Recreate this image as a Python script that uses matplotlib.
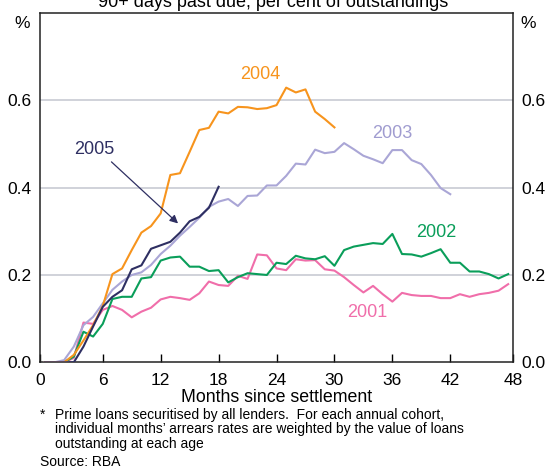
import numpy as np
import matplotlib
matplotlib.use("Agg")
import matplotlib.pyplot as plt

plt.rcParams["font.family"] = ["Liberation Sans", "DejaVu Sans"]

# arrears rate (per cent) by months since settlement, one list per cohort
y2001 = [0, 0, 0, 0.010, 0.091, 0.088, 0.120, 0.129, 0.120, 0.103, 0.116, 0.125,
         0.144, 0.150, 0.147, 0.143, 0.158, 0.185, 0.177, 0.175, 0.198, 0.191,
         0.247, 0.245, 0.215, 0.211, 0.236, 0.233, 0.234, 0.213, 0.210, 0.195,
         0.177, 0.160, 0.175, 0.156, 0.139, 0.159, 0.154, 0.152, 0.152, 0.147,
         0.147, 0.156, 0.150, 0.156, 0.159, 0.164, 0.179]
y2002 = [0, 0, 0, 0.013, 0.070, 0.059, 0.088, 0.145, 0.150, 0.150, 0.192, 0.195,
         0.233, 0.240, 0.242, 0.219, 0.219, 0.209, 0.211, 0.183, 0.195, 0.204,
         0.202, 0.200, 0.228, 0.225, 0.244, 0.238, 0.236, 0.243, 0.221, 0.257,
         0.265, 0.269, 0.273, 0.271, 0.294, 0.248, 0.247, 0.242, 0.250, 0.259,
         0.228, 0.228, 0.208, 0.208, 0.202, 0.192, 0.202]
y2003 = [0, 0, 0.005, 0.036, 0.085, 0.104, 0.135, 0.166, 0.185, 0.200, 0.206,
         0.223, 0.248, 0.267, 0.290, 0.310, 0.331, 0.356, 0.368, 0.374, 0.358,
         0.381, 0.382, 0.405, 0.405, 0.427, 0.455, 0.453, 0.487, 0.479, 0.482,
         0.502, 0.488, 0.473, 0.465, 0.456, 0.486, 0.486, 0.463, 0.454, 0.429,
         0.399, 0.385]
y2004 = [0, 0, 0, 0.017, 0.050, 0.085, 0.129, 0.202, 0.215, 0.257, 0.297, 0.312,
         0.341, 0.429, 0.433, 0.482, 0.532, 0.537, 0.574, 0.570, 0.585, 0.584,
         0.580, 0.582, 0.589, 0.629, 0.618, 0.625, 0.574, 0.557, 0.538]
y2005 = [0, 0, 0, 0, 0.036, 0.082, 0.127, 0.150, 0.165, 0.213, 0.222, 0.260,
         0.268, 0.276, 0.297, 0.323, 0.333, 0.354, 0.402]

xtick_labels = ["0", "6", "12", "18", "24", "30", "36", "42", "48"]
yticks = [0.0, 0.2, 0.4, 0.6]

c2001 = "#f06eaa"
c2002 = "#0a9e5a"
c2003 = "#aaa6d6"
c2004 = "#f7941d"
c2005 = "#2e2f62"

fig = plt.figure(figsize=(5.46, 4.72), dpi=100)
ax = fig.add_axes([0.0733, 0.2324, 0.8663, 0.7401])

for ys, col in [(y2001, c2001), (y2002, c2002), (y2003, c2003),
                (y2004, c2004), (y2005, c2005)]:
    ax.plot(np.arange(len(ys)), ys, color=col, lw=1.5, zorder=3)

ax.set_xlim(-0.5, 48.5)
ax.set_ylim(0, 0.8)
for g in yticks[1:]:
    ax.axhline(g, color="#c3c6cf", lw=1.1, zorder=1)

ax.set_yticks(yticks)
ax.set_yticklabels([f"{v:.1f}" for v in yticks])
ax.tick_params(axis="y", length=0, pad=6, labelsize=12.5, labelright=True)
xt = [-0.5, 6, 12, 18, 24, 30, 36, 42, 48.5]
ax.set_xticks(xt)
ax.set_xticklabels(xtick_labels)
ax.tick_params(axis="x", direction="in", length=6, width=1, pad=7.5, labelsize=12.5)
for s in ax.spines.values():
    s.set_color("#222222")
    s.set_linewidth(1.1)

# series labels
lab = 13
ax.text(22.3, 0.658, "2004", color=c2004, fontsize=lab, ha="center", va="center")
ax.text(36.0, 0.524, "2003", color="#a09cd0", fontsize=lab, ha="center", va="center")
ax.text(5.1, 0.488, "2005", color=c2005, fontsize=lab, ha="center", va="center")
ax.text(40.5, 0.298, "2002", color=c2002, fontsize=lab, ha="center", va="center")
ax.text(33.4, 0.115, "2001", color=c2001, fontsize=lab, ha="center", va="center")
ax.annotate("", xy=(13.8, 0.318), xytext=(6.9, 0.459),
            arrowprops=dict(arrowstyle="-|>", color=c2005, lw=0.9,
                            mutation_scale=12, shrinkA=0, shrinkB=0))

ax.set_xlabel("Months since settlement", fontsize=12.8, labelpad=1)

fig.text(0.5, 1 - 7 / 472, "90+ days past due, per cent of outstandings",
         ha="center", va="baseline", fontsize=13)
fig.text(22 / 546, 1 - 23 / 472, "%", ha="center", va="center", fontsize=12.5)
fig.text(528 / 546, 1 - 23 / 472, "%", ha="center", va="center", fontsize=12.5)

note = 10
fig.text(40 / 546, 1 - 415 / 472, "*", ha="left", va="center", fontsize=note)
fig.text(55 / 546, 1 - 415 / 472,
         "Prime loans securitised by all lenders.  For each annual cohort,",
         ha="left", va="center", fontsize=note)
fig.text(55 / 546, 1 - 429.5 / 472,
         "individual months’ arrears rates are weighted by the value of loans",
         ha="left", va="center", fontsize=note)
fig.text(55 / 546, 1 - 444 / 472, "outstanding at each age",
         ha="left", va="center", fontsize=note)
fig.text(40 / 546, 1 - 462 / 472, "Source: RBA", ha="left", va="center", fontsize=note)

fig.savefig("out.png", dpi=100)
